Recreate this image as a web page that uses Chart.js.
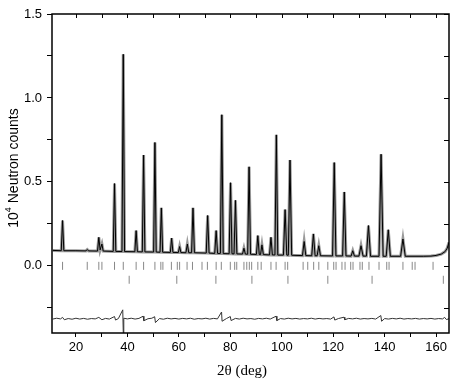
<!DOCTYPE html>
<html><head><meta charset="utf-8">
<script src="https://cdn.jsdelivr.net/npm/chart.js@4/dist/chart.umd.min.js"></script>
<style>html,body{margin:0;padding:0;background:#fff}</style>
</head><body>
<canvas id="c" width="455" height="383"></canvas>
<script>
// Profile (2θ in deg, counts in 10^4)
const profileX = [11,14.3,14.8,15.3,20,23.9,24.4,24.9,28.4,28.9,29.4,30.1,30.6,34.5,35.0,35.5,37.9,38.4,38.9,42.9,43.4,43.9,45.8,46.3,46.8,50.2,50.7,51.2,52.7,53.2,53.7,56.7,57.2,57.7,59.8,60.3,60.8,62.75,63.3,63.85,64.95,65.5,66.05,70.65,71.2,71.75,73.95,74.5,75.05,76.15,76.7,77.25,79.55,80.1,80.65,81.45,82.0,82.55,84.75,85.3,85.85,86.75,87.3,87.85,90.15,90.7,91.25,91.75,92.3,92.85,95.25,95.8,96.35,97.35,97.9,98.45,100.65,101.3,101.95,102.55,103.2,103.85,108.05,108.7,109.35,111.65,112.3,112.95,113.75,114.4,115.05,119.75,120.4,121.05,123.65,124.3,124.95,126.95,127.6,128.25,130.0,130.8,131.6,132.9,133.7,134.5,137.8,138.6,139.4,140.6,141.4,142.2,146.2,147.1,148.0,155,158,160,162,163.5,164.3,165];
const profileY = [0.092,0.090,0.27,0.090,0.090,0.089,0.097,0.089,0.088,0.17,0.095,0.13,0.088,0.086,0.49,0.086,0.085,1.26,0.085,0.084,0.21,0.084,0.083,0.66,0.083,0.082,0.735,0.082,0.081,0.345,0.081,0.080,0.165,0.080,0.079,0.115,0.079,0.078,0.13,0.078,0.078,0.345,0.078,0.076,0.30,0.076,0.074,0.21,0.074,0.074,0.90,0.073,0.072,0.495,0.072,0.071,0.39,0.071,0.070,0.105,0.070,0.069,0.59,0.069,0.068,0.18,0.068,0.067,0.125,0.067,0.065,0.17,0.065,0.065,0.78,0.064,0.064,0.335,0.064,0.063,0.63,0.063,0.061,0.145,0.061,0.060,0.19,0.060,0.060,0.12,0.060,0.059,0.615,0.059,0.059,0.44,0.059,0.058,0.09,0.058,0.058,0.12,0.058,0.058,0.24,0.057,0.057,0.665,0.057,0.057,0.215,0.057,0.057,0.16,0.057,0.057,0.058,0.062,0.070,0.085,0.105,0.14];

// Difference curve (obs - calc, offset)
const diffX = [11,12.5,14,14.8,15.5,17,18.5,20,21.5,23,24.5,26,27.5,28.9,30.1,31.5,33,35.0,35.4,36.5,38.2,38.4,38.6,40,41.5,43,44.5,46.1,46.4,48,49.5,50.6,50.9,52.5,54,55.5,57,58.5,60,61.5,63,64.5,66,67.5,69,70.5,72,73.5,75,76.6,76.8,78.5,80.0,80.3,82,83.5,85,86.5,88,89.5,91,92.5,94,95.5,97.8,98.1,99.5,101,102.5,104,105.5,107,108.5,110,111.5,113,114.5,116,117.5,119,120.3,120.6,122,124.2,124.5,126,127.5,129,130.5,132,133.5,135,136.5,138.5,138.8,140,141.5,143,144.5,146,147.5,149,150.5,152,153.5,155,156.5,158,159.5,161,162.5,163.3,164,165];
const diffY = [-0.317,-0.312,-0.316,-0.307,-0.321,-0.314,-0.318,-0.312,-0.317,-0.313,-0.318,-0.314,-0.316,-0.307,-0.321,-0.313,-0.317,-0.302,-0.323,-0.314,-0.262,-0.400,-0.312,-0.316,-0.312,-0.317,-0.313,-0.300,-0.327,-0.315,-0.312,-0.303,-0.338,-0.314,-0.318,-0.312,-0.316,-0.313,-0.317,-0.313,-0.316,-0.312,-0.318,-0.314,-0.316,-0.312,-0.317,-0.313,-0.316,-0.275,-0.330,-0.314,-0.302,-0.326,-0.313,-0.317,-0.312,-0.316,-0.314,-0.318,-0.313,-0.316,-0.312,-0.317,-0.300,-0.326,-0.314,-0.317,-0.312,-0.316,-0.313,-0.317,-0.314,-0.316,-0.312,-0.317,-0.313,-0.316,-0.314,-0.317,-0.304,-0.323,-0.314,-0.306,-0.321,-0.313,-0.316,-0.312,-0.317,-0.314,-0.316,-0.313,-0.317,-0.296,-0.330,-0.314,-0.317,-0.313,-0.316,-0.312,-0.317,-0.314,-0.316,-0.313,-0.317,-0.314,-0.316,-0.313,-0.317,-0.314,-0.316,-0.307,-0.320,-0.315];

// Bragg reflection positions (two phases)
const braggPhase1 = [14.8,24.4,28.9,30.1,35.0,38.4,43.4,46.3,50.7,53.0,53.8,57.1,59.4,60.3,63.2,65.3,69.0,71.1,74.5,76.5,80.0,81.7,82.5,85.3,86.4,87.4,88.3,90.7,92.0,95.8,97.8,101.3,102.3,108.3,110.1,112.4,114.4,117.9,120.2,121.1,123.4,124.6,126.8,127.7,130.4,131.3,133.9,137.8,140.8,141.7,147.1,150.7,151.8,158.8];
const braggPhase2 = [40.7,59.2,74.4,88.4,102.4,117.9,135.1,162.8];
const phase1Level = 0.0;
const phase2Level = -0.083;

const xMin = 10.7, xMax = 165, yMin = -0.4, yMax = 1.5;

const zip = (xs, ys) => xs.map((x, i) => ({x, y: ys[i]}));
const level = (xs, v) => xs.map(x => ({x, y: v}));

const frame = {
  id: 'frame',
  afterDraw(chart) {
    const ctx = chart.ctx, a = chart.chartArea;
    const xs = chart.scales.x, ys = chart.scales.y;
    ctx.save();
    ctx.strokeStyle = '#000';
    ctx.lineWidth = 1;
    ctx.beginPath();
    xs.ticks.forEach(t => { const px = Math.round(xs.getPixelForValue(t.value)) + 0.5; ctx.moveTo(px, a.top); ctx.lineTo(px, a.top + 4); });
    ys.ticks.forEach(t => { const py = Math.round(ys.getPixelForValue(t.value)) + 0.5; ctx.moveTo(a.right, py); ctx.lineTo(a.right - 5, py); });
    ctx.stroke();
    ctx.lineWidth = 1.5;
    ctx.strokeRect(a.left, a.top, a.right - a.left, a.bottom - a.top);
    ctx.fillStyle = '#000';
    ctx.font = '15px "Liberation Serif", serif';
    ctx.textAlign = 'center'; ctx.textBaseline = 'middle';
    ctx.fillText('2θ (deg)', 242, 371);
    ctx.translate(14, 168);
    ctx.rotate(-Math.PI / 2);
    ctx.font = '14px "Liberation Sans", Arial, sans-serif';
    const p1 = '10', p2 = '4', p3 = ' Neutron counts';
    const w1 = ctx.measureText(p1).width, w3 = ctx.measureText(p3).width;
    ctx.font = '9px "Liberation Sans", Arial, sans-serif';
    const w2 = ctx.measureText(p2).width;
    const total = w1 + w2 + w3;
    let x0 = -total / 2;
    ctx.textAlign = 'left';
    ctx.font = '14px "Liberation Sans", Arial, sans-serif';
    ctx.fillText(p1, x0, 0);
    ctx.font = '9px "Liberation Sans", Arial, sans-serif';
    ctx.fillText(p2, x0 + w1, -5);
    ctx.font = '14px "Liberation Sans", Arial, sans-serif';
    ctx.fillText(p3, x0 + w1 + w2, 0);
    ctx.restore();
  }
};

new Chart(document.getElementById('c'), {
  type: 'scatter',
  data: {
    datasets: [
      { label: 'calc', data: zip(profileX, profileY), showLine: true, borderColor: '#000', borderWidth: 1, pointRadius: 0, order: 1 },
      { label: 'obs', data: zip(profileX, profileY), showLine: true, borderColor: 'rgba(120,120,120,0.75)', borderWidth: 3, pointRadius: 0, order: 2 },
      { label: 'diff', data: zip(diffX, diffY), showLine: true, borderColor: '#333', borderWidth: 1, pointRadius: 0, order: 1 },
      { label: 'phase1', data: level(braggPhase1, phase1Level), showLine: false, pointStyle: 'line', rotation: 90, pointRadius: 4, borderColor: '#888', borderWidth: 1, order: 1 },
      { label: 'phase2', data: level(braggPhase2, phase2Level), showLine: false, pointStyle: 'line', rotation: 90, pointRadius: 4, borderColor: '#888', borderWidth: 1, order: 1 }
    ]
  },
  options: {
    responsive: false,
    animation: false,
    devicePixelRatio: 1,
    layout: { padding: { top: 14, right: 6, left: 0, bottom: 0 } },
    plugins: { legend: { display: false }, tooltip: { enabled: false } },
    elements: { line: { tension: 0 } },
    scales: {
      x: {
        type: 'linear', position: 'bottom', min: xMin, max: xMax,
        border: { display: false },
        grid: { drawOnChartArea: false, drawTicks: true, tickLength: 4, color: '#000' },
        ticks: { stepSize: 10, includeBounds: false, autoSkip: false, maxRotation: 0, padding: 3, color: '#000',
                 font: { family: '"Liberation Sans", Arial, sans-serif', size: 13 },
                 callback: v => (Math.round(v) % 20 === 0 ? String(Math.round(v)) : '') },
        afterFit: s => { s.height = 50; }
      },
      y: {
        type: 'linear', position: 'left', min: yMin, max: yMax,
        border: { display: false },
        grid: { drawOnChartArea: false, drawTicks: true, tickLength: 5, color: '#000' },
        ticks: { stepSize: 0.25, includeBounds: false, autoSkip: false, padding: 5, color: '#000',
                 font: { family: '"Liberation Sans", Arial, sans-serif', size: 13 },
                 callback: v => (Math.abs(v * 2 - Math.round(v * 2)) < 1e-6 ? v.toFixed(1) : '') },
        afterFit: s => { s.width = 52; }
      }
    }
  },
  plugins: [frame]
});
</script>
</body></html>
